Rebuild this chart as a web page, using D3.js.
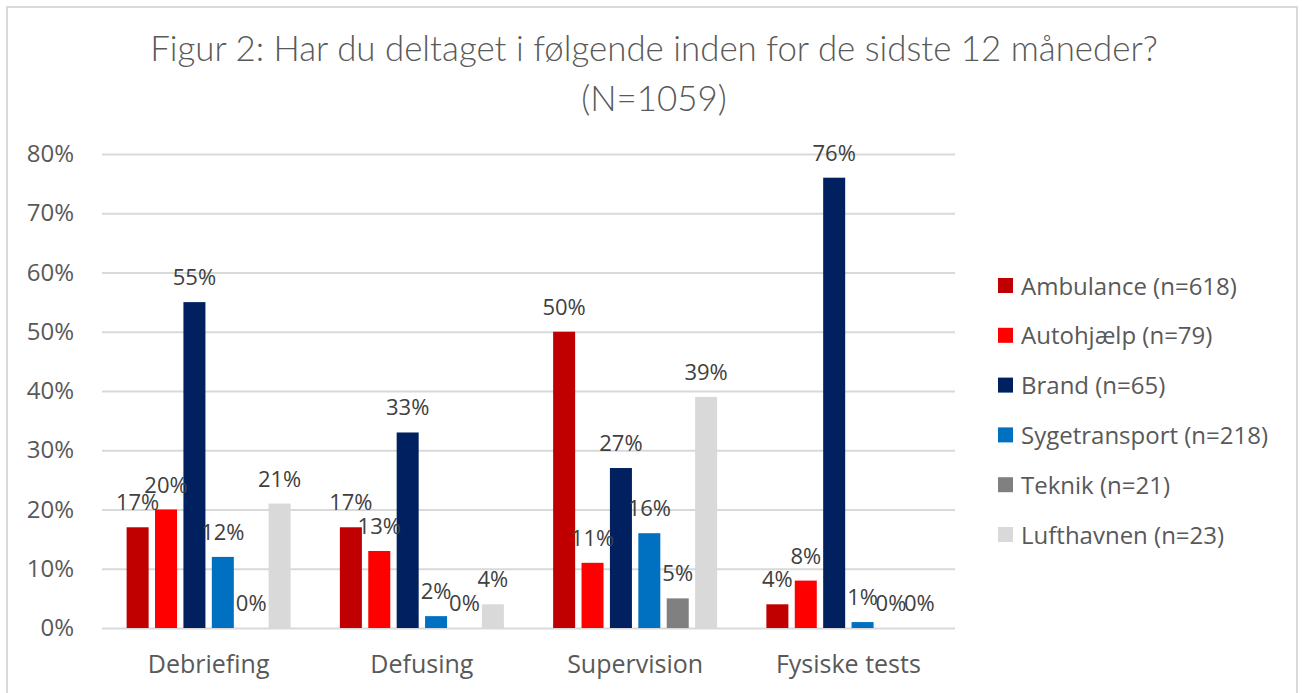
<!DOCTYPE html>
<html>
<head>
<meta charset="utf-8">
<script src="https://cdn.jsdelivr.net/npm/d3@7"></script>
<style>
  body { margin: 0; background: #fff; }
  svg { display: block; font-family: "Open Sans", "Noto Sans", sans-serif; }
</style>
</head>
<body>
<div id="chart"></div>
<script>
const categories = ['Debriefing', 'Defusing', 'Supervision', 'Fysiske tests'];
const seriesNames = ['Ambulance (n=618)', 'Autohjælp (n=79)', 'Brand (n=65)', 'Sygetransport (n=218)', 'Teknik (n=21)', 'Lufthavnen (n=23)'];
const seriesColors = ['#C00000', '#FF0000', '#002060', '#0070C0', '#808080', '#D9D9D9'];
const ambulance = [17, 17, 50, 4];
const autohjaelp = [20, 13, 11, 8];
const brand = [55, 33, 27, 76];
const sygetransport = [12, 2, 16, 1];
const teknik = [0, 0, 5, 0];
const lufthavnen = [21, 4, 39, 0];
const yTicks = [0, 10, 20, 30, 40, 50, 60, 70, 80];
const titleLines = ['Figur 2: Har du deltaget i følgende inden for de sidste 12 måneder?', '(N=1059)'];

const values = [ambulance, autohjaelp, brand, sygetransport, teknik, lufthavnen];

const w = 1302;
const h = 693;
const plot = { left: 102, right: 955, top: 154, bottom: 628 };

const svg = d3.select('#chart')
              .append('svg')
              .attr('width', w)
              .attr('height', h);

// chart frame
svg.append('path')
   .attr('d', `M7,${h} V7 H1297 V${h}`)
   .attr('fill', 'none')
   .attr('stroke', '#D9D9D9')
   .attr('stroke-width', 2);

const x0 = d3.scaleBand()
             .domain(categories)
             .range([plot.left, plot.right]);
const x1 = d3.scaleBand()
             .domain(seriesNames)
             .range([0, x0.bandwidth()])
             .paddingInner(0.225)
             .paddingOuter(0.867);
const yScale = d3.scaleLinear()
                 .domain([0, 80])
                 .range([plot.bottom, plot.top]);

// title (light face, sized to the reference width)
const title = svg.append('g')
                 .selectAll('text')
                 .data(titleLines)
                 .enter()
                 .append('text')
                 .text(d => d)
                 .attr('x', 654)
                 .attr('y', (d, i) => 61 + i * 50)
                 .attr('text-anchor', 'middle')
                 .attr('font-family', 'Lato, sans-serif')
                 .attr('font-weight', 300)
                 .attr('font-size', 31)
                 .attr('fill', '#595959');
const firstW = title.node().getComputedTextLength();
title.attr('font-size', 31 * 1008 / firstW);

// gridlines + y labels
const yAxis = d3.axisLeft(yScale)
                .tickValues(yTicks)
                .tickSize(-(plot.right - plot.left))
                .tickPadding(28)
                .tickFormat(d => d + '%');
const gy = svg.append('g')
              .attr('transform', 'translate(' + plot.left + ', 0)')
              .call(yAxis);
gy.select('.domain').remove();
gy.selectAll('line').attr('stroke', '#D9D9D9').attr('stroke-width', 2);
gy.selectAll('text')
  .attr('font-size', 24)
  .attr('font-family', '"Open Sans", sans-serif')
  .attr('fill', '#595959');

// x category labels
const xAxis = d3.axisBottom(x0).tickSize(0).tickPadding(27);
const gx = svg.append('g')
              .attr('transform', 'translate(0, ' + plot.bottom + ')')
              .call(xAxis);
gx.select('.domain').remove();
gx.selectAll('text')
  .attr('font-size', 25)
  .attr('font-family', '"Open Sans", sans-serif')
  .attr('fill', '#595959');

// bars
const rows = [];
categories.forEach((c, ci) => {
  seriesNames.forEach((s, si) => {
    rows.push({ cat: c, series: s, color: seriesColors[si], value: values[si][ci] });
  });
});

const groups = svg.append('g');
groups.selectAll('rect')
      .data(rows)
      .enter()
      .append('rect')
      .attr('x', d => x0(d.cat) + x1(d.series))
      .attr('y', d => yScale(d.value))
      .attr('width', x1.bandwidth())
      .attr('height', d => plot.bottom - yScale(d.value))
      .attr('fill', d => d.color);

groups.selectAll('text')
      .data(rows)
      .enter()
      .append('text')
      .text(d => d.value + '%')
      .attr('x', d => x0(d.cat) + x1(d.series) + x1.bandwidth() / 2)
      .attr('y', d => yScale(d.value) - 17)
      .attr('text-anchor', 'middle')
      .attr('font-size', 22)
      .attr('fill', '#404040');

// legend
const legend = svg.append('g')
                  .attr('transform', 'translate(998, 286)');
const item = legend.selectAll('g')
                   .data(seriesNames)
                   .enter()
                   .append('g')
                   .attr('transform', (d, i) => 'translate(0, ' + i * 49.8 + ')');
item.append('rect')
    .attr('x', 0)
    .attr('y', -8)
    .attr('width', 15)
    .attr('height', 15)
    .attr('fill', (d, i) => seriesColors[i]);
item.append('text')
    .text(d => d)
    .attr('x', 23)
    .attr('y', 8.5)
    .attr('font-size', 24)
    .attr('fill', '#595959');
</script>
</body>
</html>
